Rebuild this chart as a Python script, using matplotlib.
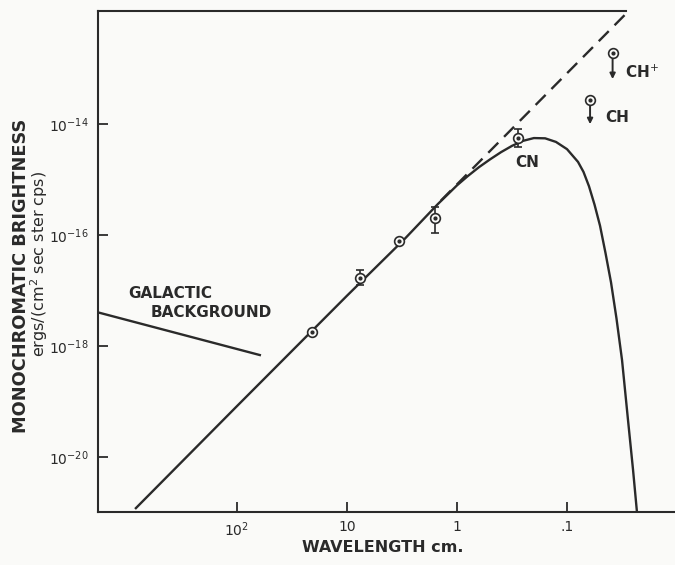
import matplotlib
matplotlib.use("Agg")
import matplotlib.pyplot as plt

# ---------------- data ----------------
# solid curve (black-body spectrum), wavelength in cm
curve_wavelength = [845, 100, 10, 3, 1.5, 1, 0.794, 0.631, 0.501, 0.398, 0.316, 0.251, 0.2,
                    0.158, 0.126, 0.1, 0.0794, 0.0708, 0.0631, 0.0562, 0.0501, 0.0447,
                    0.0398, 0.0355, 0.0316, 0.0279, 0.0251, 0.0231]
curve_brightness = [1.16e-21, 8.3e-20, 8.1e-18, 8.5e-17, 3.6e-16, 7.9e-16, 1.17e-15, 1.68e-15,
                    2.32e-15, 3.13e-15, 4.07e-15, 5.01e-15, 5.62e-15, 5.56e-15, 4.79e-15,
                    3.55e-15, 2.09e-15, 1.38e-15, 7.6e-16, 3.55e-16, 1.48e-16, 4.8e-17,
                    1.41e-17, 3.16e-18, 5.6e-19, 4.7e-20, 5.9e-21, 1.0e-21]

# dashed straight-line extrapolation
dash_wavelength = [1.4, 0.0288]
dash_brightness = [4.2e-16, 1.0e-12]

# galactic background line
gal_wavelength = [1875, 62]
gal_brightness = [4.1e-18, 6.9e-19]

# measurements with error bars
meas_wavelength = [21, 7.6, 3.4, 1.6, 0.28]
meas_brightness = [1.78e-18, 1.68e-17, 7.8e-17, 2.0e-16, 5.6e-15]
meas_low = [1.78e-18, 1.26e-17, 7.8e-17, 1.1e-16, 3.9e-15]
meas_high = [1.78e-18, 2.35e-17, 7.8e-17, 3.2e-16, 8.1e-15]

# upper limits (CH+, CH)
lim_wavelength = [0.0385, 0.0617]
lim_brightness = [1.9e-13, 2.7e-14]
lim_tip = [6.5e-14, 1.0e-14]

xtick_values = [100, 10, 1, 0.1]
xtick_labels = [r"$10^2$", "10", "1", ".1"]
ytick_values = [1e-14, 1e-16, 1e-18, 1e-20]
ytick_labels = [r"$10^{-14}$", r"$10^{-16}$", r"$10^{-18}$", r"$10^{-20}$"]

# ---------------- drawing ----------------
ink = "#2a2a2a"
bg = "#fafaf8"
plt.rcParams["font.family"] = ["DejaVu Sans"]
plt.rcParams["mathtext.fontset"] = "dejavusans"

fig = plt.figure(figsize=(6.75, 5.65), dpi=100)
fig.patch.set_facecolor(bg)
ax = fig.add_axes([98 / 675, 1 - 512 / 565, (675 - 98) / 675, (512 - 11) / 565])
ax.set_facecolor(bg)
ax.set_xscale("log")
ax.set_yscale("log")
ax.set_xlim(10 ** (2 + (237 - 98) / 110), 10 ** (2 - (675 - 237) / 110))
ax.set_ylim(10 ** -20.99, 10 ** -11.96)

ax.plot(curve_wavelength, curve_brightness, color=ink, lw=1.7, solid_capstyle="butt",
        solid_joinstyle="round", zorder=2)
ax.plot(dash_wavelength, dash_brightness, color=ink, lw=1.7, linestyle=(0, (6, 3.5)), zorder=2)
ax.plot(gal_wavelength, gal_brightness, color=ink, lw=1.7, zorder=2)

lower = [b - l for b, l in zip(meas_brightness, meas_low)]
upper = [h - b for b, h in zip(meas_brightness, meas_high)]
ax.errorbar(meas_wavelength, meas_brightness, yerr=[lower, upper], fmt="none",
            ecolor=ink, elinewidth=1.2, capsize=3, capthick=1.2, zorder=3)
ax.plot(meas_wavelength, meas_brightness, "o", ms=7, mfc=bg, mec=ink, mew=1.2, zorder=4)
ax.plot(meas_wavelength, meas_brightness, "o", ms=2, color=ink, zorder=5)

for wl, b, t in zip(lim_wavelength, lim_brightness, lim_tip):
    ax.annotate("", xy=(wl, t), xytext=(wl, b),
                arrowprops=dict(arrowstyle="-|>", color=ink, lw=1.4, mutation_scale=8,
                                shrinkA=0, shrinkB=0), zorder=3)
ax.plot(lim_wavelength, lim_brightness, "o", ms=7, mfc=bg, mec=ink, mew=1.2, zorder=4)
ax.plot(lim_wavelength, lim_brightness, "o", ms=2, color=ink, zorder=5)

# annotations
ax.text(0.231, 2.0e-15, "CN", ha="center", va="center", fontsize=11, fontweight="bold", color=ink)
ax.text(0.0297, 8.7e-14, r"CH$^{+}$", ha="left", va="center", fontsize=11, fontweight="bold", color=ink)
ax.text(0.0451, 1.34e-14, "CH", ha="left", va="center", fontsize=11, fontweight="bold", color=ink)
ax.text(980, 9.0e-18, "GALACTIC", ha="left", va="center", fontsize=11, fontweight="bold", color=ink)
ax.text(616, 4.1e-18, "BACKGROUND", ha="left", va="center", fontsize=11, fontweight="bold", color=ink)

# axes styling
ax.spines["right"].set_visible(False)
ax.spines["top"].set_bounds(ax.get_xlim()[0], dash_wavelength[-1])
for s in ["left", "bottom", "top"]:
    ax.spines[s].set_color(ink)
    ax.spines[s].set_linewidth(1.5)

ax.set_xticks(xtick_values)
ax.set_xticklabels(xtick_labels)
ax.set_yticks(ytick_values)
ax.set_yticklabels(ytick_labels)
ax.minorticks_off()
ax.tick_params(axis="both", direction="in", length=7, width=1.3, colors=ink,
               labelsize=10, labelcolor=ink)
ax.tick_params(axis="x", pad=6)
ax.tick_params(axis="y", pad=7)

fig.text(383 / 675, 1 - 548 / 565, "WAVELENGTH cm.", ha="center", va="center",
         fontsize=11.5, fontweight="bold", color=ink)
fig.text(21 / 675, 1 - 276 / 565, "MONOCHROMATIC BRIGHTNESS", rotation=90, ha="center",
         va="center", fontsize=12.8, fontweight="bold", color=ink)
fig.text(39 / 675, 1 - 264 / 565, r"ergs/(cm$^2$ sec ster cps)", rotation=90, ha="center",
         va="center", fontsize=11.5, color=ink)

fig.savefig("out.png", dpi=100, facecolor=bg)
